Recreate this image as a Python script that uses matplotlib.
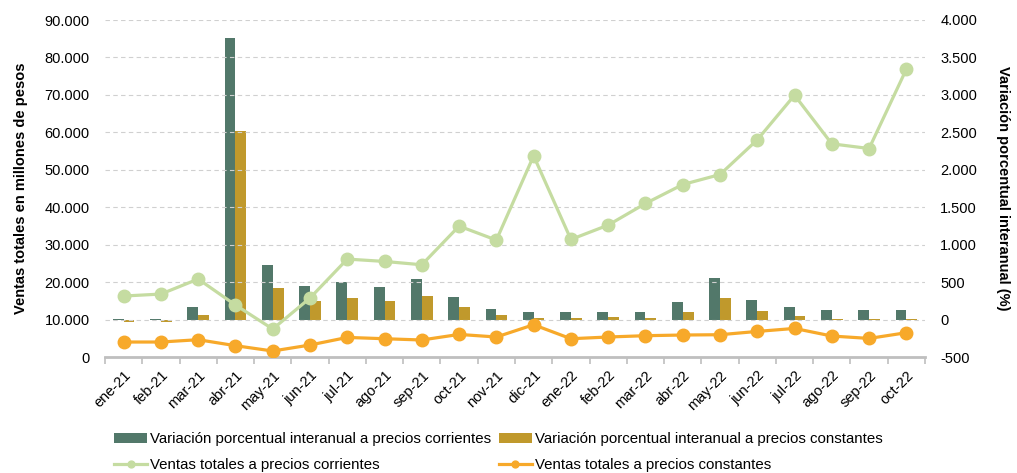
import matplotlib
matplotlib.use("Agg")
import matplotlib.pyplot as plt
import numpy as np
from matplotlib.ticker import FuncFormatter, FixedLocator

plt.rcParams['font.family'] = ['Liberation Sans', 'DejaVu Sans']

months = ["ene-21", "feb-21", "mar-21", "abr-21", "may-21", "jun-21", "jul-21",
          "ago-21", "sep-21", "oct-21", "nov-21", "dic-21", "ene-22", "feb-22",
          "mar-22", "abr-22", "may-22", "jun-22", "jul-22", "ago-22", "sep-22", "oct-22"]

var_corrientes = [10, 10, 165, 3764, 734, 454, 498, 441, 543, 307, 147, 107,
                  98, 107, 98, 231, 556, 267, 169, 125, 129, 125]
var_constantes = [-36, -36, 62, 2523, 423, 245, 289, 249, 311, 165, 62, 27,
                  27, 40, 27, 102, 285, 116, 49, 13, 13, 9]
ventas_corrientes = [16280, 16810, 20820, 13880, 7470, 15750, 26150, 25520, 24630,
                     34960, 31220, 53720, 31390, 35230, 41000, 46060, 48730, 58000,
                     69920, 56930, 55680, 76860]
ventas_constantes = [4000, 4000, 4620, 3020, 1600, 3200, 5230, 4880, 4540, 6030,
                     5340, 8620, 4880, 5340, 5690, 5870, 5950, 6830, 7630, 5600,
                     4960, 6490]

c_bar1 = "#52786a"
c_bar2 = "#c0992c"
c_line1 = "#c5dca1"
c_line2 = "#f7a92a"

fig = plt.figure(figsize=(10.17, 4.73), dpi=100)
ax = fig.add_axes([105/1017, 1 - 357/473, (925-105)/1017, (357-20)/473])
ax2 = ax.twinx()

x = np.arange(len(months))
w = 0.29
b1 = ax.bar(x - w/2, var_corrientes, w, color=c_bar1, zorder=2,
            label="Variación porcentual interanual a precios corrientes")
b2 = ax.bar(x + w/2, var_constantes, w, color=c_bar2, zorder=2,
            label="Variación porcentual interanual a precios constantes")
ax.set_ylim(-500, 4000)
ax.set_yticks(np.arange(-500, 4001, 500))
ax.yaxis.tick_right()
ax.yaxis.set_label_position('right')
ax.set_ylabel("Variación porcentual interanual (%)", fontsize=10.5, fontweight='bold',
              rotation=270, labelpad=24, color='black')

l1, = ax2.plot(x, ventas_corrientes, color=c_line1, lw=2.3, marker='o', ms=9,
               label="Ventas totales a precios corrientes")
l2, = ax2.plot(x, ventas_constantes, color=c_line2, lw=2.3, marker='o', ms=9,
               label="Ventas totales a precios constantes")
ax2.set_ylim(0, 90000)
ax2.set_yticks(np.arange(0, 90001, 10000))
ax2.yaxis.tick_left()
ax2.yaxis.set_label_position('left')
ax2.set_ylabel("Ventas totales en millones de pesos", fontsize=10.5, fontweight='bold',
               labelpad=12)

fmt = FuncFormatter(lambda v, p: f"{int(v):,}".replace(",", "."))
ax.yaxis.set_major_formatter(fmt)
ax2.yaxis.set_major_formatter(fmt)

for a in (ax, ax2):
    for s in ('left', 'right', 'top', 'bottom'):
        a.spines[s].set_visible(False)
    a.tick_params(axis='y', length=0, labelsize=10.5, pad=11, colors='black')

for gv in np.arange(10000, 90001, 10000):
    ax2.axhline(gv, color="#d0d0d0", lw=0.8, ls=(0, (4, 3)), zorder=0)
ax2.axhline(0, color="#bfbfbf", lw=2, zorder=1, clip_on=False)

ax.set_xlim(-0.5, len(months) - 0.5)
ax.set_xticks(x)
ax.set_xticklabels(months, rotation=45, ha='right', rotation_mode='anchor', fontsize=10.5)
ax.tick_params(axis='x', length=0, pad=8)
ax.xaxis.set_minor_locator(FixedLocator(np.arange(-0.5, len(months), 1.0)))
ax.tick_params(axis='x', which='minor', length=5, width=1.2, color="#bfbfbf")
ax2.tick_params(axis='x', length=0)

handles = [b1, l1, b2, l2]
labels = [h.get_label() for h in handles]
fig.legend(handles, labels, loc='upper left', bbox_to_anchor=(108/1017, 1 - 426/473),
           ncol=2, frameon=False, fontsize=10.8, handlelength=2.2, handletextpad=0.2,
           columnspacing=0.5, borderaxespad=0, labelspacing=0.8, markerscale=0.55)

fig.savefig("out.png", dpi=100)
